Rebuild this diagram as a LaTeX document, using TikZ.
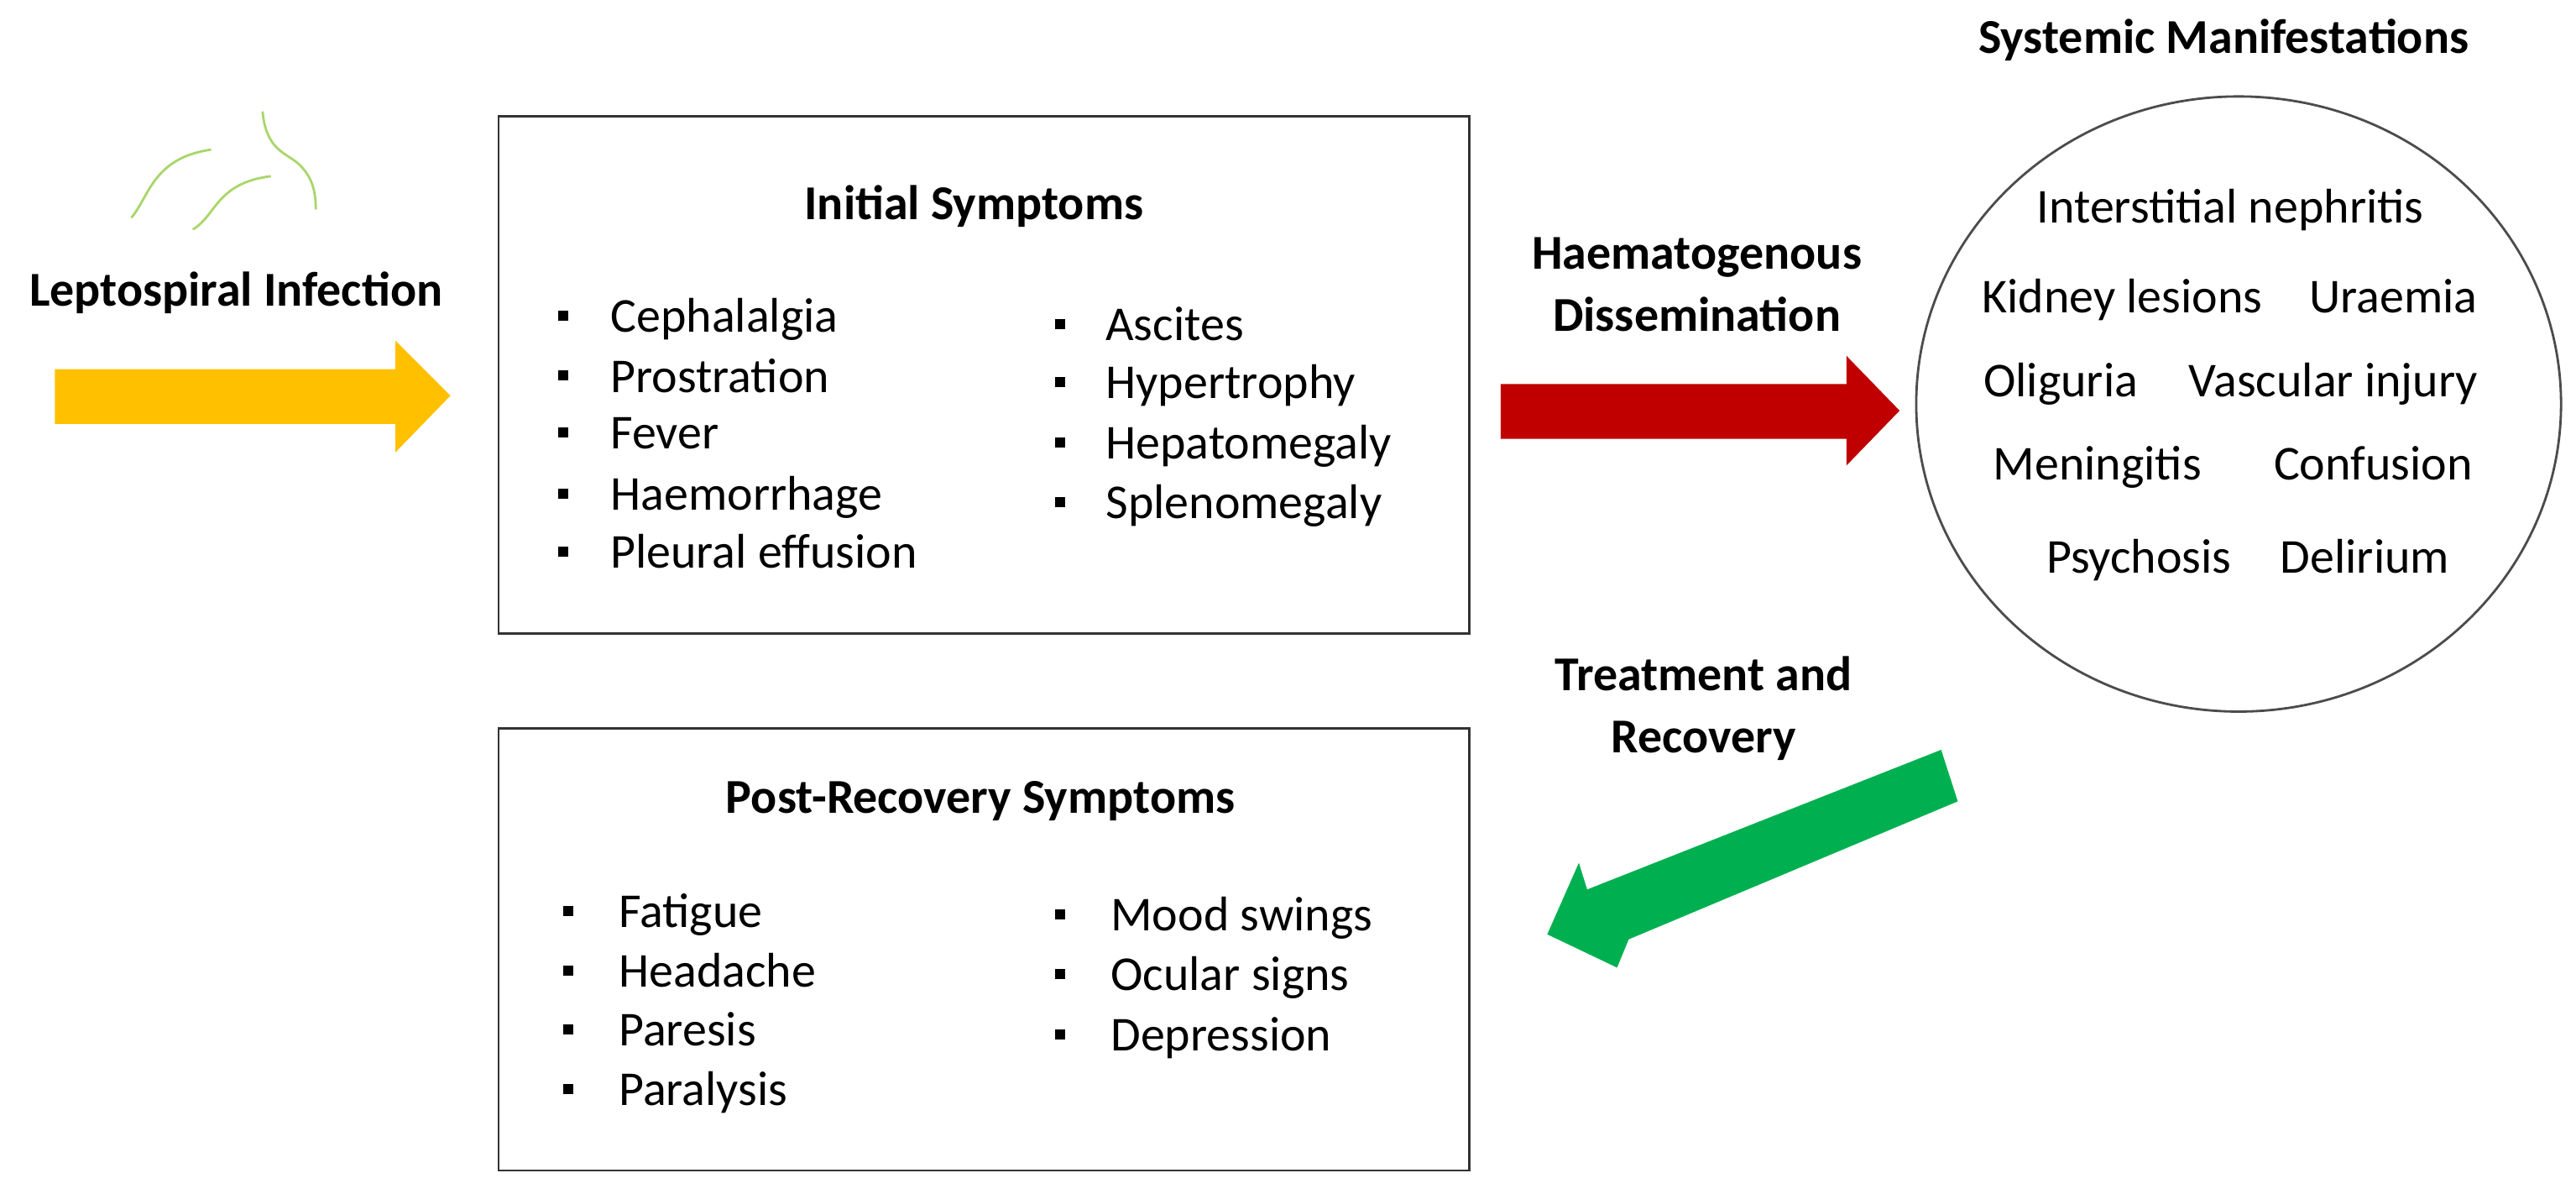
\documentclass[tikz,border=0pt]{standalone}
\usepackage{fontspec}
\setmainfont{Carlito}
\definecolor{yel}{HTML}{FFC000}
\definecolor{rd}{HTML}{C00000}
\definecolor{grn}{HTML}{00B050}
\definecolor{sq}{HTML}{A9D66B}
\begin{document}
\begin{tikzpicture}[x=0.0198cm,y=-0.0198cm,
  every node/.style={font=\fontsize{16.5}{19}\selectfont,inner sep=0pt,text height=1.6ex,text depth=0.45ex},
  ttl/.style={font=\fontsize{16.5}{19}\selectfont\bfseries,align=center,text height=,text depth=},
  box/.style={draw=black!80,line width=0.8pt},
  bul/.style={fill=black,minimum size=0.12cm,inner sep=0pt,text height=,text depth=}]
\useasboundingbox (0,0) rectangle (1550,718);
% squiggles
\draw[sq,line width=0.8pt] (79,131) .. controls (90,118) and (92,95) .. (127,90);
\draw[sq,line width=0.8pt] (116,138) .. controls (130,130) and (130,110) .. (163,106);
\draw[sq,line width=0.8pt] (158,67) .. controls (160,90) and (172,92) .. (179,98) .. controls (188,106) and (190,115) .. (190,126);
\node[ttl] (lt) at (142,176) {Leptospiral Infection};
% yellow arrow
\fill[yel] (33,222) -- (238,222) -- (238,205) -- (271,238) -- (238,272) -- (238,255) -- (33,255) -- cycle;
% box 1
\draw[box] (300,70) rectangle (884,381);
\node[ttl] (t1) at (586,124) {Initial Symptoms};
\foreach \t/\y [count=\i] in {Cephalalgia/195,Prostration/231,Fever/265,Haemorrhage/302,Pleural effusion/337}{
  \node[bul] (a\i) at (339,\y-5) {}; \node[anchor=west] (at\i) at (367,\y) {\t};}
\foreach \t/\y [count=\i] in {Ascites/200,Hypertrophy/235,Hepatomegaly/271,Splenomegaly/307}{
  \node[bul] (c\i) at (638,\y-5) {}; \node[anchor=west] (ct\i) at (665,\y) {\t};}
% haematogenous
\node[ttl] (hd) at (1021,171) {Haematogenous\\[2pt]Dissemination};
\fill[rd] (903,231) -- (1111,231) -- (1111,214) -- (1143,247) -- (1111,280) -- (1111,264) -- (903,264) -- cycle;
% ellipse
\draw[black!70,line width=0.8pt] (1347,243) ellipse [x radius=194, y radius=185];
\node[ttl] (sm) at (1338,24) {Systemic Manifestations};
\node (m1) at (1342,129) {Interstitial nephritis};
\node (m2) at (1277,183) {Kidney lesions};
\node (m3) at (1440,183) {Uraemia};
\node (m4) at (1240,234) {Oliguria};
\node (m5) at (1404,234) {Vascular injury};
\node (m6) at (1262,284) {Meningitis};
\node (m7) at (1428,284) {Confusion};
\node (m8) at (1287,340) {Psychosis};
\node (m9) at (1423,340) {Delirium};
% treatment
\node[ttl] (tr) at (1025,426) {Treatment and\\[2pt]Recovery};
\fill[grn] (1168,451) -- (1178,482) -- (980,565) -- (973,582) -- (931,562) -- (950,519) -- (955,535) -- cycle;
% box 2
\draw[box] (300,438) rectangle (884,704);
\node[ttl] (t2) at (590,482) {Post-Recovery Symptoms};
\foreach \t/\y [count=\i] in {Fatigue/553,Headache/589,Paresis/624,Paralysis/660}{
  \node[bul] (p\i) at (342,\y-5) {}; \node[anchor=west] (pt\i) at (372,\y) {\t};}
\foreach \t/\y [count=\i] in {Mood swings/555,Ocular signs/591,Depression/627}{
  \node[bul] (q\i) at (638,\y-5) {}; \node[anchor=west] (qt\i) at (668,\y) {\t};}
\end{tikzpicture}
\end{document}
